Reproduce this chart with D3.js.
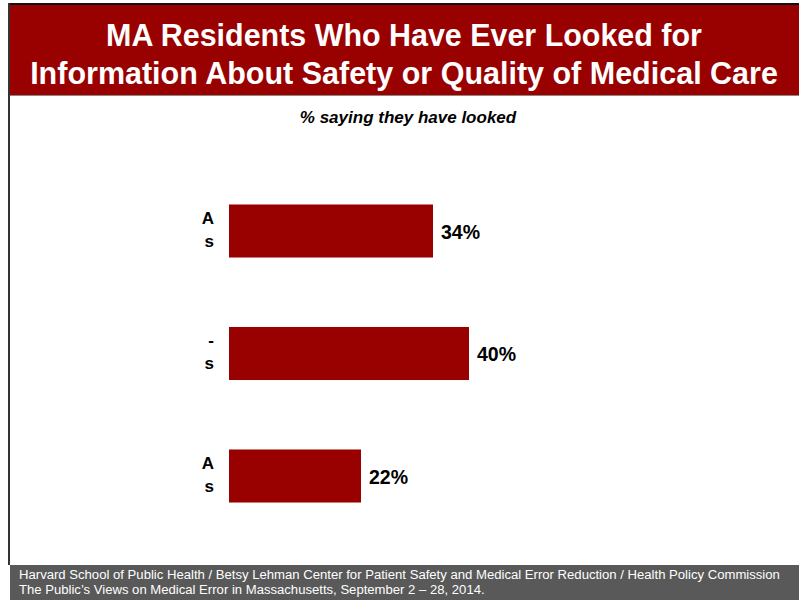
<!DOCTYPE html>
<html>
<head>
<meta charset="utf-8">
<script src="https://cdn.jsdelivr.net/npm/d3@7"></script>
<style>
  html, body { margin: 0; padding: 0; background: #fff; }
  svg { display: block; }
  text { font-family: "Liberation Sans", Arial, sans-serif; }
</style>
</head>
<body>
<script>
// Survey groups (only the trailing characters of each label are visible)
const categories = ["g1", "g2", "g3"];
const labelLine1 = ["A", "-", "A"];
const labelLine2 = ["s", "s", "s"];
const values = [34, 40, 22];

const titleLines = [
  "MA Residents Who Have Ever Looked for",
  "Information About Safety or Quality of Medical Care"
];
const subtitle = "% saying they have looked";
const footerLines = [
  "Harvard School of Public Health / Betsy Lehman Center for Patient Safety and Medical Error Reduction / Health Policy Commission",
  "The Public\u2019s Views on Medical Error in Massachusetts, September 2 \u2013 28, 2014."
];

const W = 799, H = 600;
const red = "#990000";

const svg = d3.select("body").append("svg")
  .attr("width", W).attr("height", H);

// Narrow a text horizontally to a target width (condensed look)
function condense(sel, cx, cy, targetW, anchor) {
  sel.each(function (d, i) {
    const t = d3.select(this);
    const w = this.getComputedTextLength();
    const sx = Math.min(1, targetW[i] / w);
    t.attr("x", 0).attr("y", 0)
      .attr("transform", `translate(${cx},${cy(i)}) scale(${sx},1)`);
  });
}

// Frame lines
svg.append("rect").attr("x", 8).attr("y", 3).attr("width", W - 8).attr("height", 2).attr("fill", "#111");
svg.append("rect").attr("x", 8).attr("y", 3).attr("width", 2).attr("height", 562).attr("fill", "#333");

// Title banner
svg.append("rect").attr("x", 10).attr("y", 5).attr("width", W - 10).attr("height", 90).attr("fill", red);
svg.append("rect").attr("x", 10).attr("y", 95).attr("width", W - 10).attr("height", 1).attr("fill", "#888");

const titleWidths = [596, 748];
svg.selectAll("text.title").data(titleLines).join("text")
  .attr("class", "title")
  .attr("text-anchor", "middle")
  .attr("fill", "#fff")
  .attr("font-weight", "bold")
  .attr("font-size", 32)
  .text(d => d)
  .call(condense, 404, i => 46 + i * 38, titleWidths);

svg.append("text")
  .attr("text-anchor", "middle")
  .attr("font-weight", "bold").attr("font-style", "italic")
  .attr("font-size", 17)
  .attr("fill", "#000")
  .datum(subtitle)
  .text(d => d)
  .call(condense, 408, () => 123, [222]);

// Scales
const x = d3.scaleLinear().domain([0, 40]).range([229, 469]);
const y = d3.scaleBand().domain(categories).range([169.75, 537.25])
  .paddingInner(0.567).paddingOuter(0.2835);

const g = svg.append("g");

g.selectAll("rect.bar").data(values).join("rect")
  .attr("class", "bar")
  .attr("x", x(0))
  .attr("y", (d, i) => y(categories[i]))
  .attr("width", d => x(d) - x(0))
  .attr("height", y.bandwidth())
  .attr("fill", red);

g.selectAll("text.val").data(values).join("text")
  .attr("class", "val")
  .attr("x", d => x(d) + 8)
  .attr("y", (d, i) => y(categories[i]) + y.bandwidth() / 2 + 1)
  .attr("dy", "0.35em")
  .attr("font-weight", "bold")
  .attr("font-size", 19.5)
  .attr("fill", "#000")
  .text(d => d + "%");

// Category labels
g.selectAll("text.cat1").data(labelLine1).join("text")
  .attr("class", "cat1")
  .attr("x", 214)
  .attr("y", (d, i) => y(categories[i]) + y.bandwidth() / 2 - 13)
  .attr("dy", "0.35em")
  .attr("text-anchor", "end")
  .attr("font-weight", "bold").attr("font-size", 17).attr("fill", "#000")
  .text(d => d);

g.selectAll("text.cat2").data(labelLine2).join("text")
  .attr("class", "cat2")
  .attr("x", 214)
  .attr("y", (d, i) => y(categories[i]) + y.bandwidth() / 2 + 10)
  .attr("dy", "0.35em")
  .attr("text-anchor", "end")
  .attr("font-weight", "bold").attr("font-size", 17).attr("fill", "#000")
  .text(d => d);

// Footer
svg.append("rect").attr("x", 10).attr("y", 565).attr("width", W - 10).attr("height", 35).attr("fill", "#595959");
const footerWidths = [762, 466];
svg.selectAll("text.foot").data(footerLines).join("text")
  .attr("class", "foot")
  .attr("fill", "#fff")
  .attr("font-size", 13.5)
  .text(d => d)
  .call(condense, 19, i => 579 + i * 14.5, footerWidths);
</script>
</body>
</html>
